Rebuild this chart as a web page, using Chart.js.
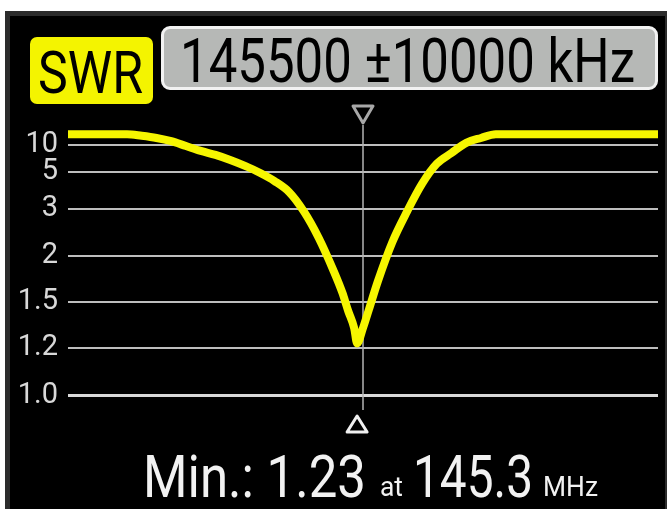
<!DOCTYPE html>
<html>
<head>
<meta charset="utf-8">
<title>SWR sweep</title>
<script src="https://cdn.jsdelivr.net/npm/chart.js@4.4.1/dist/chart.umd.min.js"></script>
<style>
    html, body { margin: 0; padding: 0; background: #fff; width: 667px; height: 509px; overflow: hidden; }
    #screen {
        position: absolute; left: 5px; top: 11px; width: 662px; height: 498px;
        box-sizing: border-box; background: #000;
        border-left: 5px solid #2c2c2c; border-top: 5px solid #2c2c2c; border-right: 2px solid #2c2c2c;
    }
    #chartWrap { position: absolute; left: 0; top: 0; width: 667px; height: 509px; }
    .box { position: absolute; box-sizing: border-box; }
    #modeBox { left: 30px; top: 37px; width: 123px; height: 67px; background: #f4f400; border-radius: 7px; }
    #rangeBox { left: 161px; top: 26px; width: 497px; height: 64px; background: #b6b8b6; border: 3px solid #f2f2f2; border-radius: 9px; }
    .txt {
        position: absolute; white-space: nowrap; line-height: 1;
        font-family: Roboto, "Noto Sans", sans-serif; transform-origin: 0 0;
    }
    .dark { color: #000; }
    .light { color: #f2f2f2; }
</style>
</head>
<body>
<div id="screen"></div>
<div class="box" id="modeBox"></div>
<div class="box" id="rangeBox"></div>
<div id="chartWrap"><canvas id="swrChart"></canvas></div>

<span class="txt dark" id="modeText" style="left:38px; top:42.5px; font-size:60px;">SWR</span>
<span class="txt dark" id="rangeText" style="left:180px; top:29.8px; font-size:62px;"></span>
<span class="txt light" id="minLabel" style="left:143px; top:447.4px; font-size:59px;"></span>
<span class="txt light" id="atLabel" style="left:380px; top:473.4px; font-size:28px;">at</span>
<span class="txt light" id="minFreqLabel" style="left:413px; top:447.4px; font-size:59px;"></span>
<span class="txt light" id="unitLabel" style="left:543px; top:473.4px; font-size:28px;">MHz</span>

<script>
(function () {
    'use strict';

    // sweep settings shown in the header
    const CENTER_KHZ = 145500;
    const SPAN_KHZ = 10000;

    const freqMHz = [135.5, 137.5, 138, 138.5, 139, 139.5, 140, 140.5, 141, 141.5, 142, 142.5,
                     143, 143.5, 144, 144.5, 144.8, 145, 145.2, 145.3, 145.5, 145.7, 146, 146.5,
                     147, 147.5, 148, 148.5, 149, 149.5, 150, 155.5];
    const swr = [12.0, 12.0, 11.7, 11.3, 10.7, 9.8, 8.9, 8.15, 7.2, 6.1, 4.95, 4.5,
                 3.9, 2.94, 2.38, 1.84, 1.6, 1.44, 1.33, 1.23, 1.33, 1.45, 1.72, 2.3,
                 2.95, 4.35, 6.5, 8.5, 10.4, 11.3, 12.0, 12.0];

    // y axis of the analyzer: SWR ticks and where they sit on its (non-log) scale
    const SWR_TICKS = [1.0, 1.2, 1.5, 2, 3, 5, 10];
    const TICK_LABELS = ['1.0', '1.2', '1.5', '2', '3', '5', '10'];
    const TICK_UNITS = [0, 1, 1.96, 2.92, 3.9, 4.67, 5.23];

    function toScale(v) {
        const n = SWR_TICKS.length;
        for (let i = 1; i < n; i++) {
            if (v <= SWR_TICKS[i] || i === n - 1) {
                const a = SWR_TICKS[i - 1], b = SWR_TICKS[i];
                return TICK_UNITS[i - 1] + (v - a) / (b - a) * (TICK_UNITS[i] - TICK_UNITS[i - 1]);
            }
        }
    }

    // minimum of the sweep
    let minIdx = 0;
    swr.forEach((v, i) => { if (v < swr[minIdx]) minIdx = i; });
    const minSwr = swr[minIdx];
    const minFreq = freqMHz[minIdx];
    const centerMHz = CENTER_KHZ / 1000;

    // centre marker, min marker and the vertical centre line
    const markerPlugin = {
        id: 'markers',
        beforeDatasetsDraw(chart) {
            const { ctx, chartArea } = chart;
            const x = chart.scales.x.getPixelForValue(centerMHz);
            ctx.save();
            ctx.strokeStyle = '#b4b4b4';
            ctx.lineWidth = 1.5;
            ctx.beginPath();
            ctx.moveTo(x, chartArea.top + 25);
            ctx.lineTo(x, chartArea.bottom - 30);
            ctx.stroke();
            ctx.restore();
        },
        afterDatasetsDraw(chart) {
            const { ctx, chartArea } = chart;
            const xc = chart.scales.x.getPixelForValue(centerMHz);
            const xm = chart.scales.x.getPixelForValue(minFreq);
            ctx.save();
            ctx.lineWidth = 3;
            ctx.lineJoin = 'round';
            // top (centre) marker, pointing down
            ctx.strokeStyle = '#a8a8a8';
            ctx.beginPath();
            ctx.moveTo(xc - 10, chartArea.top + 6);
            ctx.lineTo(xc + 10, chartArea.top + 6);
            ctx.lineTo(xc, chartArea.top + 23);
            ctx.closePath();
            ctx.stroke();
            // bottom (minimum) marker, pointing up
            ctx.strokeStyle = '#f0f0f0';
            ctx.beginPath();
            ctx.moveTo(xm, chartArea.bottom - 24);
            ctx.lineTo(xm + 10, chartArea.bottom - 8);
            ctx.lineTo(xm - 10, chartArea.bottom - 8);
            ctx.closePath();
            ctx.stroke();
            ctx.restore();
        }
    };

    function renderChart() {
        const ctx = document.getElementById('swrChart');
        new Chart(ctx, {
            type: 'line',
            data: {
                datasets: [{
                    label: 'SWR',
                    data: freqMHz.map((f, i) => ({ x: f, y: toScale(swr[i]) })),
                    borderColor: '#f6f600',
                    borderWidth: 8,
                    borderCapStyle: 'round',
                    borderJoinStyle: 'round',
                    cubicInterpolationMode: 'monotone',
                    pointRadius: 0,
                    fill: false
                }]
            },
            options: {
                responsive: true,
                maintainAspectRatio: false,
                animation: false,
                devicePixelRatio: 1,
                layout: { padding: { top: 100, bottom: 69, left: 0, right: 9 } },
                plugins: { legend: { display: false }, tooltip: { enabled: false } },
                scales: {
                    x: {
                        type: 'linear',
                        min: (CENTER_KHZ - SPAN_KHZ) / 1000,
                        max: (CENTER_KHZ + SPAN_KHZ) / 1000,
                        display: false
                    },
                    y: {
                        type: 'linear',
                        min: -0.917,
                        max: 6.167,
                        afterFit: scale => { scale.width = 68; },
                        afterBuildTicks: scale => {
                            scale.ticks = SWR_TICKS.map(v => ({ value: toScale(v) }));
                        },
                        ticks: {
                            autoSkip: false,
                            padding: 10,
                            color: '#d8d8d8',
                            font: { family: 'Roboto', size: 29 },
                            callback: (value, index) => TICK_LABELS[index]
                        },
                        grid: {
                            drawTicks: false,
                            color: c => c.index === 0 ? '#dadada' : '#bdbdbd',
                            lineWidth: c => c.index === 0 ? 3 : 2
                        },
                        border: { display: false }
                    }
                }
            },
            plugins: [markerPlugin]
        });
    }

    // squeeze the text to the narrow LCD font widths
    const TEXT_WIDTHS = {
        modeText: 105, rangeText: 455, minLabel: 223,
        atLabel: 23, minFreqLabel: 120, unitLabel: 55
    };

    function fitTexts() {
        Object.keys(TEXT_WIDTHS).forEach(id => {
            const el = document.getElementById(id);
            el.style.transform = 'none';
            const w = el.getBoundingClientRect().width;
            if (w > 0) el.style.transform = 'scaleX(' + (TEXT_WIDTHS[id] / w) + ')';
        });
    }

    document.getElementById('rangeText').textContent = CENTER_KHZ + ' \u00b1' + SPAN_KHZ + ' kHz';
    document.getElementById('minLabel').textContent = 'Min.: ' + minSwr.toFixed(2);
    document.getElementById('minFreqLabel').textContent = minFreq.toFixed(1);

    renderChart();
    fitTexts();
    if (document.fonts && document.fonts.ready) document.fonts.ready.then(fitTexts);
})();
</script>
</body>
</html>
